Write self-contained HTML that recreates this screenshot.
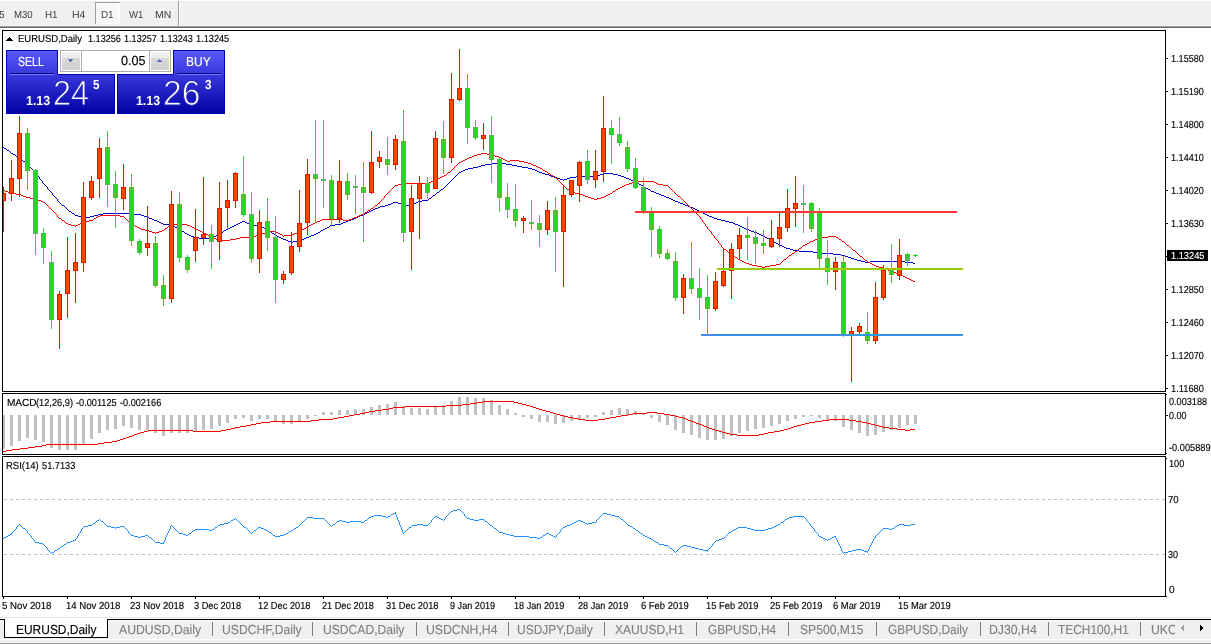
<!DOCTYPE html>
<html lang="en"><head><meta charset="utf-8"><title>EURUSD,Daily</title>
<style>
html,body{margin:0;padding:0;background:#fff;}
body{width:1211px;height:644px;overflow:hidden;position:relative;font-family:"Liberation Sans",sans-serif;}
#w{position:absolute;left:0;top:0;width:1211px;height:644px;overflow:hidden;}
svg{position:absolute;left:0;top:0;}
.t{position:absolute;white-space:pre;transform-origin:0 0;display:block;text-rendering:geometricPrecision;}
.c{position:absolute;overflow:hidden;}
</style></head>
<body><div id="w">
<svg width="1211" height="644" viewBox="0 0 1211 644" shape-rendering="crispEdges">
<rect x="0" y="0" width="1211" height="644" fill="#fff"/>
<rect x="0" y="1" width="1211" height="25" fill="#f0f0f0"/>
<rect x="0" y="26" width="1211" height="1" fill="#a0a0a0"/>
<rect x="0" y="27" width="1211" height="1" fill="#696969"/>
<defs><pattern id="d" width="2" height="2" patternUnits="userSpaceOnUse"><rect width="2" height="2" fill="#f0f0f0"/><rect width="1" height="1" fill="#fff"/><rect x="1" y="1" width="1" height="1" fill="#fff"/></pattern></defs>
<rect x="96" y="3" width="24" height="21" fill="url(#d)"/>
<rect x="95" y="2" width="25" height="1" fill="#a0a0a0"/><rect x="95" y="2" width="1" height="22" fill="#a0a0a0"/>
<rect x="96" y="23" width="24" height="1" fill="#fff"/><rect x="119" y="3" width="1" height="21" fill="#fff"/>
<rect x="178" y="1" width="1" height="25" fill="#a0a0a0"/><rect x="179" y="1" width="1" height="25" fill="#fff"/>
<path d="M3 147h1v1h-1zM4 148h2v1h-2zM6 149h1v1h-1zM7 150h2v1h-2zM9 151h1v1h-1zM10 152h1v1h-1zM11 153h2v1h-2zM13 154h2v1h-2zM15 155h1v1h-1zM16 156h2v1h-2zM18 157h2v1h-2zM20 158h1v1h-1zM21 159h1v1h-1zM22 160h1v1h-1zM23 161h2v1h-2zM25 162h1v1h-1zM26 163h1v1h-1zM27 164h1v1h-1zM28 165h1v1h-1zM29 166h1v1h-1zM30 167h1v1h-1zM31 168h1v1h-1zM32 169h1v1h-1zM33 170h1v1h-1zM34 171h1v1h-1zM35 172h1v2h-1zM36 174h1v1h-1zM37 175h1v1h-1zM38 176h1v1h-1zM39 177h1v2h-1zM40 179h1v1h-1zM41 180h1v1h-1zM42 181h1v2h-1zM43 183h1v1h-1zM44 184h1v1h-1zM45 185h1v1h-1zM46 186h1v1h-1zM47 187h1v2h-1zM48 189h1v1h-1zM49 190h1v1h-1zM50 191h1v1h-1zM51 192h1v1h-1zM52 193h1v2h-1zM53 195h1v1h-1zM54 196h1v1h-1zM55 197h1v1h-1zM56 198h1v1h-1zM57 199h1v2h-1zM58 201h1v1h-1zM59 202h1v1h-1zM60 203h1v1h-1zM61 204h1v1h-1zM62 205h2v1h-2zM64 206h1v1h-1zM65 207h1v1h-1zM66 208h1v1h-1zM67 209h1v1h-1zM68 210h1v1h-1zM69 211h2v1h-2zM71 212h1v1h-1zM72 213h2v1h-2zM74 214h1v1h-1zM75 215h3v1h-3zM78 216h3v1h-3zM81 217h9v1h-9zM90 216h4v1h-4zM94 215h4v1h-4zM98 214h5v1h-5zM103 213h12v1h-12zM115 214h1v1h-1zM116 213h15v1h-15zM131 214h10v1h-10zM141 215h3v1h-3zM144 216h3v1h-3zM147 217h2v1h-2zM149 218h3v1h-3zM152 219h2v1h-2zM154 220h3v1h-3zM157 221h2v1h-2zM159 222h2v1h-2zM161 223h2v1h-2zM163 224h6v1h-6zM169 225h4v1h-4zM173 226h2v1h-2zM175 227h2v1h-2zM177 228h2v1h-2zM179 229h2v1h-2zM181 230h1v1h-1zM182 231h2v1h-2zM184 232h1v1h-1zM185 233h2v1h-2zM187 234h2v1h-2zM189 235h2v1h-2zM191 236h3v1h-3zM194 237h5v1h-5zM199 238h13v1h-13zM212 237h2v1h-2zM214 236h2v1h-2zM216 235h2v1h-2zM218 234h2v1h-2zM220 233h1v1h-1zM221 232h2v1h-2zM223 231h1v1h-1zM224 230h2v1h-2zM226 229h2v1h-2zM228 228h2v1h-2zM230 227h2v1h-2zM232 226h2v1h-2zM234 225h2v1h-2zM236 224h2v1h-2zM238 223h2v1h-2zM240 222h2v1h-2zM242 221h3v1h-3zM245 222h2v1h-2zM247 223h3v1h-3zM250 224h3v1h-3zM253 225h7v1h-7zM260 226h2v1h-2zM262 227h2v1h-2zM264 228h2v1h-2zM266 229h1v1h-1zM267 230h2v1h-2zM269 231h2v1h-2zM271 232h1v1h-1zM272 233h2v1h-2zM274 234h1v1h-1zM275 235h2v1h-2zM277 236h2v1h-2zM279 237h2v1h-2zM281 238h2v1h-2zM283 239h3v1h-3zM286 240h2v1h-2zM288 241h3v1h-3zM291 242h2v1h-2zM293 241h5v1h-5zM298 240h3v1h-3zM301 239h3v1h-3zM304 238h2v1h-2zM306 237h3v1h-3zM309 236h2v1h-2zM311 235h3v1h-3zM314 234h2v1h-2zM316 233h2v1h-2zM318 232h2v1h-2zM320 231h1v1h-1zM321 230h2v1h-2zM323 229h2v1h-2zM325 228h2v1h-2zM327 227h2v1h-2zM329 226h1v1h-1zM330 225h5v1h-5zM335 224h6v1h-6zM341 223h2v1h-2zM343 222h3v1h-3zM346 221h2v1h-2zM348 220h3v1h-3zM351 219h3v1h-3zM354 218h2v1h-2zM356 217h2v1h-2zM358 216h2v1h-2zM360 215h3v1h-3zM363 214h2v1h-2zM365 213h2v1h-2zM367 212h2v1h-2zM369 211h2v1h-2zM371 210h2v1h-2zM373 209h2v1h-2zM375 208h3v1h-3zM378 207h2v1h-2zM380 206h5v1h-5zM385 205h3v1h-3zM388 204h3v1h-3zM391 203h2v1h-2zM393 202h5v1h-5zM398 203h3v1h-3zM401 204h2v1h-2zM403 205h9v1h-9zM412 204h2v1h-2zM414 203h2v1h-2zM416 202h2v1h-2zM418 201h4v1h-4zM422 200h6v1h-6zM428 199h1v1h-1zM429 198h2v1h-2zM431 197h1v1h-1zM432 196h1v1h-1zM433 195h2v1h-2zM435 194h1v1h-1zM436 193h1v1h-1zM437 192h2v1h-2zM439 191h1v1h-1zM440 190h1v1h-1zM441 189h2v1h-2zM443 188h1v1h-1zM444 187h1v1h-1zM445 186h1v1h-1zM446 185h1v1h-1zM447 184h1v1h-1zM448 183h1v1h-1zM449 182h1v1h-1zM450 181h1v1h-1zM451 180h1v1h-1zM452 179h1v1h-1zM453 178h1v1h-1zM454 177h1v1h-1zM455 176h1v1h-1zM456 175h1v1h-1zM457 174h1v1h-1zM458 173h1v1h-1zM459 172h2v1h-2zM461 171h2v1h-2zM463 170h2v1h-2zM465 169h3v1h-3zM468 168h5v1h-5zM473 167h5v1h-5zM478 166h3v1h-3zM481 165h4v1h-4zM485 164h7v1h-7zM492 163h14v1h-14zM506 164h6v1h-6zM512 165h5v1h-5zM517 166h5v1h-5zM522 167h6v1h-6zM528 168h4v1h-4zM532 169h3v1h-3zM535 170h2v1h-2zM537 171h2v1h-2zM539 172h3v1h-3zM542 173h3v1h-3zM545 174h4v1h-4zM549 175h2v1h-2zM551 176h3v1h-3zM554 177h3v1h-3zM557 178h3v1h-3zM560 179h3v1h-3zM563 180h1v1h-1zM564 179h3v1h-3zM567 178h3v1h-3zM570 177h6v1h-6zM576 176h20v1h-20zM596 175h4v1h-4zM600 174h4v1h-4zM604 173h9v1h-9zM613 174h5v1h-5zM618 175h3v1h-3zM621 176h3v1h-3zM624 177h2v1h-2zM626 178h3v1h-3zM629 179h2v1h-2zM631 180h2v1h-2zM633 181h2v1h-2zM635 182h2v1h-2zM637 183h2v1h-2zM639 184h2v1h-2zM641 185h2v1h-2zM643 186h1v1h-1zM644 187h2v1h-2zM646 188h2v1h-2zM648 189h2v1h-2zM650 190h1v1h-1zM651 191h3v1h-3zM654 192h2v1h-2zM656 193h3v1h-3zM659 194h2v1h-2zM661 195h3v1h-3zM664 196h2v1h-2zM666 197h3v1h-3zM669 198h2v1h-2zM671 199h2v1h-2zM673 200h2v1h-2zM675 201h3v1h-3zM678 202h2v1h-2zM680 203h3v1h-3zM683 204h2v1h-2zM685 205h3v1h-3zM688 206h2v1h-2zM690 207h3v1h-3zM693 208h2v1h-2zM695 209h2v1h-2zM697 210h2v1h-2zM699 211h2v1h-2zM701 212h2v1h-2zM703 213h2v1h-2zM705 214h2v1h-2zM707 215h2v1h-2zM709 216h3v1h-3zM712 217h2v1h-2zM714 218h3v1h-3zM717 219h4v1h-4zM721 220h4v1h-4zM725 221h4v1h-4zM729 222h4v1h-4zM733 223h2v1h-2zM735 224h3v1h-3zM738 225h2v1h-2zM740 226h2v1h-2zM742 227h2v1h-2zM744 228h2v1h-2zM746 229h3v1h-3zM749 230h2v1h-2zM751 231h3v1h-3zM754 232h3v1h-3zM757 233h2v1h-2zM759 234h2v1h-2zM761 235h2v1h-2zM763 236h2v1h-2zM765 237h2v1h-2zM767 238h2v1h-2zM769 239h2v1h-2zM771 240h2v1h-2zM773 241h1v1h-1zM774 242h2v1h-2zM776 243h2v1h-2zM778 244h1v1h-1zM779 245h3v1h-3zM782 246h2v1h-2zM784 247h2v1h-2zM786 248h4v1h-4zM790 249h3v1h-3zM793 250h6v1h-6zM799 251h14v1h-14zM813 252h5v1h-5zM818 253h15v1h-15zM833 254h8v1h-8zM841 255h4v1h-4zM845 256h3v1h-3zM848 257h3v1h-3zM851 258h3v1h-3zM854 259h3v1h-3zM857 260h4v1h-4zM861 261h4v1h-4zM865 262h5v1h-5zM870 261h35v1h-35zM905 262h8v1h-8zM913 263h2v1h-2z" fill="#0000cd"/>
<path d="M3 190h2v1h-2zM5 191h3v1h-3zM8 192h3v1h-3zM11 193h5v1h-5zM16 194h5v1h-5zM21 195h2v1h-2zM23 196h3v1h-3zM26 197h4v1h-4zM30 198h5v1h-5zM35 199h3v1h-3zM38 200h3v1h-3zM41 201h2v1h-2zM43 202h2v1h-2zM45 203h1v1h-1zM46 204h1v1h-1zM47 205h1v1h-1zM48 206h1v1h-1zM49 207h1v1h-1zM50 208h1v1h-1zM51 209h1v1h-1zM52 210h1v1h-1zM53 211h1v1h-1zM54 212h1v1h-1zM55 213h1v1h-1zM56 214h1v1h-1zM57 215h1v2h-1zM58 217h1v1h-1zM59 218h2v1h-2zM61 219h1v1h-1zM62 220h2v1h-2zM64 221h1v1h-1zM65 222h1v1h-1zM66 223h2v1h-2zM68 224h3v1h-3zM71 225h4v1h-4zM75 226h1v1h-1zM76 225h2v1h-2zM78 224h2v1h-2zM80 223h1v1h-1zM81 222h2v1h-2zM83 221h6v1h-6zM89 220h4v1h-4zM93 219h1v1h-1zM94 218h2v1h-2zM96 217h2v1h-2zM98 216h2v1h-2zM100 215h20v1h-20zM120 216h4v1h-4zM124 217h1v1h-1zM125 218h1v1h-1zM126 219h1v1h-1zM127 220h1v1h-1zM128 221h1v1h-1zM129 222h1v1h-1zM130 223h1v1h-1zM131 224h2v1h-2zM133 225h2v1h-2zM135 226h2v1h-2zM137 227h2v1h-2zM139 228h2v1h-2zM141 229h4v1h-4zM145 230h4v1h-4zM149 231h3v1h-3zM152 232h3v1h-3zM155 233h1v1h-1zM156 232h3v1h-3zM159 231h3v1h-3zM162 230h2v1h-2zM164 229h1v1h-1zM165 228h2v1h-2zM167 227h1v1h-1zM168 226h1v1h-1zM169 225h2v1h-2zM171 224h16v1h-16zM187 225h3v1h-3zM190 226h2v1h-2zM192 227h2v1h-2zM194 228h2v1h-2zM196 229h2v1h-2zM198 230h2v1h-2zM200 231h2v1h-2zM202 232h1v1h-1zM203 233h3v1h-3zM206 234h2v1h-2zM208 235h2v1h-2zM210 236h2v1h-2zM212 237h2v1h-2zM214 238h2v1h-2zM216 239h3v1h-3zM219 240h11v1h-11zM230 239h6v1h-6zM236 238h4v1h-4zM240 237h12v1h-12zM252 236h4v1h-4zM256 235h4v1h-4zM260 234h2v1h-2zM262 233h3v1h-3zM265 232h2v1h-2zM267 231h9v1h-9zM276 232h2v1h-2zM278 233h2v1h-2zM280 234h2v1h-2zM282 235h1v1h-1zM283 236h1v1h-1zM284 235h8v1h-8zM292 234h2v1h-2zM294 233h3v1h-3zM297 232h2v1h-2zM299 231h2v1h-2zM301 230h1v1h-1zM302 229h2v1h-2zM304 228h2v1h-2zM306 227h1v1h-1zM307 226h2v1h-2zM309 225h2v1h-2zM311 224h2v1h-2zM313 223h2v1h-2zM315 222h2v1h-2zM317 221h3v1h-3zM320 220h2v1h-2zM322 219h21v1h-21zM343 220h6v1h-6zM349 219h3v1h-3zM352 218h2v1h-2zM354 217h3v1h-3zM357 216h2v1h-2zM359 215h2v1h-2zM361 214h2v1h-2zM363 213h2v1h-2zM365 212h2v1h-2zM367 211h1v1h-1zM368 210h2v1h-2zM370 209h1v1h-1zM371 208h2v1h-2zM373 207h1v1h-1zM374 206h1v1h-1zM375 205h2v1h-2zM377 204h1v1h-1zM378 203h1v1h-1zM379 202h1v2h-1zM380 201h1v1h-1zM381 200h1v1h-1zM382 199h1v1h-1zM383 198h1v1h-1zM384 196h1v2h-1zM385 195h1v1h-1zM386 194h1v1h-1zM387 193h1v1h-1zM388 192h1v1h-1zM389 191h1v1h-1zM390 190h1v1h-1zM391 189h1v1h-1zM392 188h1v1h-1zM393 187h1v1h-1zM394 186h1v1h-1zM395 185h3v1h-3zM398 184h5v1h-5zM403 183h26v1h-26zM429 182h2v1h-2zM431 181h2v1h-2zM433 180h2v1h-2zM435 179h2v1h-2zM437 178h3v1h-3zM440 177h2v1h-2zM442 176h2v1h-2zM444 175h2v1h-2zM446 174h1v1h-1zM447 173h1v1h-1zM448 172h2v1h-2zM450 171h1v1h-1zM451 170h1v1h-1zM452 169h1v1h-1zM453 168h1v1h-1zM454 167h1v1h-1zM455 166h1v1h-1zM456 165h1v1h-1zM457 164h1v1h-1zM458 163h1v1h-1zM459 162h2v1h-2zM461 161h2v1h-2zM463 160h2v1h-2zM465 159h2v1h-2zM467 158h2v1h-2zM469 157h3v1h-3zM472 156h2v1h-2zM474 155h3v1h-3zM477 154h4v1h-4zM481 153h6v1h-6zM487 154h5v1h-5zM492 155h3v1h-3zM495 156h4v1h-4zM499 157h2v1h-2zM501 158h2v1h-2zM503 159h2v1h-2zM505 160h2v1h-2zM507 161h3v1h-3zM510 160h9v1h-9zM519 161h5v1h-5zM524 162h4v1h-4zM528 163h3v1h-3zM531 164h2v1h-2zM533 165h3v1h-3zM536 166h2v1h-2zM538 167h2v1h-2zM540 168h2v1h-2zM542 169h1v1h-1zM543 170h2v1h-2zM545 171h2v1h-2zM547 172h1v1h-1zM548 173h2v1h-2zM550 174h1v1h-1zM551 175h2v1h-2zM553 176h2v1h-2zM555 177h1v1h-1zM556 178h1v1h-1zM557 179h1v1h-1zM558 180h1v1h-1zM559 181h1v1h-1zM560 182h1v1h-1zM561 183h1v1h-1zM562 184h1v1h-1zM563 185h1v1h-1zM564 186h1v1h-1zM565 187h1v1h-1zM566 188h1v1h-1zM567 189h2v1h-2zM569 190h1v1h-1zM570 191h1v1h-1zM571 192h4v1h-4zM575 193h5v1h-5zM580 194h3v1h-3zM583 195h2v1h-2zM585 196h3v1h-3zM588 197h3v1h-3zM591 198h3v1h-3zM594 199h3v1h-3zM597 198h4v1h-4zM601 197h3v1h-3zM604 196h2v1h-2zM606 195h2v1h-2zM608 194h2v1h-2zM610 193h2v1h-2zM612 192h1v1h-1zM613 191h2v1h-2zM615 190h1v1h-1zM616 189h2v1h-2zM618 188h2v1h-2zM620 187h2v1h-2zM622 186h2v1h-2zM624 185h2v1h-2zM626 184h3v1h-3zM629 183h3v1h-3zM632 182h3v1h-3zM635 181h19v1h-19zM654 182h2v1h-2zM656 183h2v1h-2zM658 184h5v1h-5zM663 185h5v1h-5zM668 186h1v1h-1zM669 187h1v1h-1zM670 188h1v1h-1zM671 189h1v1h-1zM672 190h1v1h-1zM673 191h1v1h-1zM674 192h1v1h-1zM675 193h1v1h-1zM676 194h1v1h-1zM677 195h1v1h-1zM678 196h2v1h-2zM680 197h1v1h-1zM681 198h1v1h-1zM682 199h1v1h-1zM683 200h1v1h-1zM684 201h1v1h-1zM685 202h1v1h-1zM686 203h1v1h-1zM687 204h1v1h-1zM688 205h1v1h-1zM689 206h1v1h-1zM690 207h1v1h-1zM691 208h1v1h-1zM692 209h1v1h-1zM693 210h1v1h-1zM694 211h1v1h-1zM695 212h1v1h-1zM696 213h1v1h-1zM697 214h1v1h-1zM698 215h1v1h-1zM699 216h1v1h-1zM700 217h1v2h-1zM701 219h1v1h-1zM702 220h1v2h-1zM703 222h1v1h-1zM704 223h1v1h-1zM705 224h1v2h-1zM706 226h1v1h-1zM707 227h1v2h-1zM708 229h1v1h-1zM709 230h1v1h-1zM710 231h1v1h-1zM711 232h1v2h-1zM712 234h1v1h-1zM713 235h1v1h-1zM714 236h1v2h-1zM715 238h1v1h-1zM716 239h1v1h-1zM717 240h1v1h-1zM718 241h1v2h-1zM719 243h1v1h-1zM720 244h1v1h-1zM721 245h1v2h-1zM722 247h1v1h-1zM723 248h1v1h-1zM724 249h2v1h-2zM726 250h1v1h-1zM727 251h1v1h-1zM728 252h2v1h-2zM730 253h1v1h-1zM731 254h1v1h-1zM732 255h2v1h-2zM734 256h1v1h-1zM735 257h2v1h-2zM737 258h1v1h-1zM738 259h2v1h-2zM740 260h2v1h-2zM742 261h2v1h-2zM744 262h2v1h-2zM746 263h3v1h-3zM749 264h3v1h-3zM752 265h5v1h-5zM757 266h5v1h-5zM762 267h3v1h-3zM765 266h5v1h-5zM770 265h6v1h-6zM776 264h4v1h-4zM780 263h1v1h-1zM781 262h1v1h-1zM782 261h1v1h-1zM783 260h1v1h-1zM784 259h2v1h-2zM786 258h1v1h-1zM787 257h1v1h-1zM788 256h1v1h-1zM789 255h2v1h-2zM791 254h1v1h-1zM792 253h2v1h-2zM794 252h1v1h-1zM795 251h2v1h-2zM797 250h1v1h-1zM798 249h1v1h-1zM799 248h2v1h-2zM801 247h1v1h-1zM802 246h1v1h-1zM803 245h2v1h-2zM805 244h2v1h-2zM807 243h2v1h-2zM809 242h1v1h-1zM810 241h3v1h-3zM813 240h2v1h-2zM815 239h3v1h-3zM818 238h4v1h-4zM822 237h6v1h-6zM828 236h8v1h-8zM836 237h2v1h-2zM838 238h1v1h-1zM839 239h2v1h-2zM841 240h1v1h-1zM842 241h2v1h-2zM844 242h1v1h-1zM845 243h1v1h-1zM846 244h1v1h-1zM847 245h2v1h-2zM849 246h1v1h-1zM850 247h1v1h-1zM851 248h1v1h-1zM852 249h1v1h-1zM853 250h2v1h-2zM855 251h1v1h-1zM856 252h1v1h-1zM857 253h1v1h-1zM858 254h1v1h-1zM859 255h1v1h-1zM860 256h2v1h-2zM862 257h1v1h-1zM863 258h1v1h-1zM864 259h1v1h-1zM865 260h2v1h-2zM867 261h1v1h-1zM868 262h2v1h-2zM870 263h2v1h-2zM872 264h2v1h-2zM874 265h2v1h-2zM876 266h3v1h-3zM879 267h4v1h-4zM883 268h3v1h-3zM886 269h2v1h-2zM888 270h3v1h-3zM891 271h3v1h-3zM894 272h2v1h-2zM896 273h3v1h-3zM899 274h2v1h-2zM901 275h2v1h-2zM903 276h2v1h-2zM905 277h2v1h-2zM907 278h2v1h-2zM909 279h2v1h-2zM911 280h2v1h-2zM913 281h2v1h-2z" fill="#ff0000"/>
<rect x="3" y="187" width="1" height="45" fill="#ff0000"/>
<rect x="1" y="193" width="5" height="8" fill="#ff0000"/>
<rect x="2" y="194" width="3" height="6" fill="#ff4500"/>
<rect x="11" y="160" width="1" height="41" fill="#ff0000"/>
<rect x="9" y="178" width="5" height="16" fill="#ff0000"/>
<rect x="10" y="179" width="3" height="14" fill="#ff4500"/>
<rect x="19" y="116" width="1" height="81" fill="#ff0000"/>
<rect x="17" y="133" width="5" height="46" fill="#ff0000"/>
<rect x="18" y="134" width="3" height="44" fill="#ff4500"/>
<rect x="27" y="128" width="1" height="62" fill="#32cd32"/>
<rect x="25" y="133" width="5" height="38" fill="#32cd32"/>
<rect x="35" y="169" width="1" height="86" fill="#32cd32"/>
<rect x="33" y="170" width="5" height="64" fill="#32cd32"/>
<rect x="43" y="228" width="1" height="36" fill="#32cd32"/>
<rect x="41" y="233" width="5" height="15" fill="#32cd32"/>
<rect x="51" y="251" width="1" height="78" fill="#32cd32"/>
<rect x="49" y="262" width="5" height="58" fill="#32cd32"/>
<rect x="59" y="291" width="1" height="58" fill="#ff0000"/>
<rect x="57" y="294" width="5" height="26" fill="#ff0000"/>
<rect x="58" y="295" width="3" height="24" fill="#ff4500"/>
<rect x="67" y="237" width="1" height="81" fill="#ff0000"/>
<rect x="65" y="270" width="5" height="24" fill="#ff0000"/>
<rect x="66" y="271" width="3" height="22" fill="#ff4500"/>
<rect x="75" y="233" width="1" height="70" fill="#ff0000"/>
<rect x="73" y="262" width="5" height="9" fill="#ff0000"/>
<rect x="74" y="263" width="3" height="7" fill="#ff4500"/>
<rect x="83" y="182" width="1" height="90" fill="#ff0000"/>
<rect x="81" y="197" width="5" height="66" fill="#ff0000"/>
<rect x="82" y="198" width="3" height="64" fill="#ff4500"/>
<rect x="91" y="176" width="1" height="24" fill="#ff0000"/>
<rect x="89" y="181" width="5" height="17" fill="#ff0000"/>
<rect x="90" y="182" width="3" height="15" fill="#ff4500"/>
<rect x="99" y="138" width="1" height="60" fill="#ff0000"/>
<rect x="97" y="148" width="5" height="31" fill="#ff0000"/>
<rect x="98" y="149" width="3" height="29" fill="#ff4500"/>
<rect x="107" y="131" width="1" height="76" fill="#32cd32"/>
<rect x="105" y="147" width="5" height="38" fill="#32cd32"/>
<rect x="115" y="171" width="1" height="57" fill="#32cd32"/>
<rect x="113" y="184" width="5" height="14" fill="#32cd32"/>
<rect x="123" y="164" width="1" height="46" fill="#ff0000"/>
<rect x="121" y="187" width="5" height="12" fill="#ff0000"/>
<rect x="122" y="188" width="3" height="10" fill="#ff4500"/>
<rect x="131" y="174" width="1" height="72" fill="#32cd32"/>
<rect x="129" y="187" width="5" height="54" fill="#32cd32"/>
<rect x="139" y="239" width="1" height="16" fill="#32cd32"/>
<rect x="137" y="241" width="5" height="12" fill="#32cd32"/>
<rect x="147" y="206" width="1" height="50" fill="#ff0000"/>
<rect x="145" y="243" width="5" height="5" fill="#ff0000"/>
<rect x="146" y="244" width="3" height="3" fill="#ff4500"/>
<rect x="155" y="236" width="1" height="52" fill="#32cd32"/>
<rect x="153" y="243" width="5" height="43" fill="#32cd32"/>
<rect x="163" y="275" width="1" height="31" fill="#32cd32"/>
<rect x="161" y="285" width="5" height="14" fill="#32cd32"/>
<rect x="171" y="191" width="1" height="112" fill="#ff0000"/>
<rect x="169" y="204" width="5" height="95" fill="#ff0000"/>
<rect x="170" y="205" width="3" height="93" fill="#ff4500"/>
<rect x="179" y="192" width="1" height="70" fill="#32cd32"/>
<rect x="177" y="204" width="5" height="54" fill="#32cd32"/>
<rect x="187" y="255" width="1" height="18" fill="#32cd32"/>
<rect x="185" y="257" width="5" height="13" fill="#32cd32"/>
<rect x="195" y="209" width="1" height="53" fill="#ff0000"/>
<rect x="193" y="237" width="5" height="14" fill="#ff0000"/>
<rect x="194" y="238" width="3" height="12" fill="#ff4500"/>
<rect x="203" y="177" width="1" height="68" fill="#ff0000"/>
<rect x="201" y="234" width="5" height="4" fill="#ff0000"/>
<rect x="202" y="235" width="3" height="2" fill="#ff4500"/>
<rect x="211" y="225" width="1" height="44" fill="#32cd32"/>
<rect x="209" y="234" width="5" height="8" fill="#32cd32"/>
<rect x="219" y="182" width="1" height="78" fill="#ff0000"/>
<rect x="217" y="208" width="5" height="34" fill="#ff0000"/>
<rect x="218" y="209" width="3" height="32" fill="#ff4500"/>
<rect x="227" y="180" width="1" height="48" fill="#ff0000"/>
<rect x="225" y="200" width="5" height="8" fill="#ff0000"/>
<rect x="226" y="201" width="3" height="6" fill="#ff4500"/>
<rect x="235" y="172" width="1" height="36" fill="#ff0000"/>
<rect x="233" y="173" width="5" height="28" fill="#ff0000"/>
<rect x="234" y="174" width="3" height="26" fill="#ff4500"/>
<rect x="243" y="156" width="1" height="61" fill="#32cd32"/>
<rect x="241" y="194" width="5" height="21" fill="#32cd32"/>
<rect x="251" y="192" width="1" height="71" fill="#32cd32"/>
<rect x="249" y="214" width="5" height="45" fill="#32cd32"/>
<rect x="259" y="210" width="1" height="63" fill="#ff0000"/>
<rect x="257" y="222" width="5" height="37" fill="#ff0000"/>
<rect x="258" y="223" width="3" height="35" fill="#ff4500"/>
<rect x="267" y="198" width="1" height="53" fill="#32cd32"/>
<rect x="265" y="221" width="5" height="17" fill="#32cd32"/>
<rect x="275" y="216" width="1" height="87" fill="#32cd32"/>
<rect x="273" y="237" width="5" height="43" fill="#32cd32"/>
<rect x="283" y="271" width="1" height="13" fill="#ff0000"/>
<rect x="281" y="274" width="5" height="6" fill="#ff0000"/>
<rect x="282" y="275" width="3" height="4" fill="#ff4500"/>
<rect x="291" y="232" width="1" height="43" fill="#ff0000"/>
<rect x="289" y="246" width="5" height="27" fill="#ff0000"/>
<rect x="290" y="247" width="3" height="25" fill="#ff4500"/>
<rect x="299" y="190" width="1" height="62" fill="#ff0000"/>
<rect x="297" y="223" width="5" height="24" fill="#ff0000"/>
<rect x="298" y="224" width="3" height="22" fill="#ff4500"/>
<rect x="307" y="159" width="1" height="76" fill="#ff0000"/>
<rect x="305" y="174" width="5" height="49" fill="#ff0000"/>
<rect x="306" y="175" width="3" height="47" fill="#ff4500"/>
<rect x="315" y="120" width="1" height="103" fill="#32cd32"/>
<rect x="313" y="174" width="5" height="5" fill="#32cd32"/>
<rect x="323" y="120" width="1" height="88" fill="#32cd32"/>
<rect x="321" y="179" width="5" height="2" fill="#32cd32"/>
<rect x="331" y="175" width="1" height="50" fill="#32cd32"/>
<rect x="329" y="180" width="5" height="39" fill="#32cd32"/>
<rect x="339" y="160" width="1" height="63" fill="#ff0000"/>
<rect x="337" y="181" width="5" height="38" fill="#ff0000"/>
<rect x="338" y="182" width="3" height="36" fill="#ff4500"/>
<rect x="347" y="173" width="1" height="27" fill="#32cd32"/>
<rect x="345" y="181" width="5" height="14" fill="#32cd32"/>
<rect x="355" y="175" width="1" height="39" fill="#32cd32"/>
<rect x="353" y="186" width="5" height="2" fill="#32cd32"/>
<rect x="363" y="162" width="1" height="80" fill="#32cd32"/>
<rect x="361" y="187" width="5" height="6" fill="#32cd32"/>
<rect x="371" y="131" width="1" height="63" fill="#ff0000"/>
<rect x="369" y="162" width="5" height="31" fill="#ff0000"/>
<rect x="370" y="163" width="3" height="29" fill="#ff4500"/>
<rect x="379" y="151" width="1" height="17" fill="#ff0000"/>
<rect x="377" y="157" width="5" height="5" fill="#ff0000"/>
<rect x="378" y="158" width="3" height="3" fill="#ff4500"/>
<rect x="387" y="137" width="1" height="38" fill="#32cd32"/>
<rect x="385" y="159" width="5" height="6" fill="#32cd32"/>
<rect x="395" y="135" width="1" height="35" fill="#ff0000"/>
<rect x="393" y="139" width="5" height="26" fill="#ff0000"/>
<rect x="394" y="140" width="3" height="24" fill="#ff4500"/>
<rect x="403" y="110" width="1" height="132" fill="#32cd32"/>
<rect x="401" y="141" width="5" height="92" fill="#32cd32"/>
<rect x="411" y="185" width="1" height="85" fill="#ff0000"/>
<rect x="409" y="198" width="5" height="34" fill="#ff0000"/>
<rect x="410" y="199" width="3" height="32" fill="#ff4500"/>
<rect x="419" y="176" width="1" height="63" fill="#ff0000"/>
<rect x="417" y="183" width="5" height="16" fill="#ff0000"/>
<rect x="418" y="184" width="3" height="14" fill="#ff4500"/>
<rect x="427" y="177" width="1" height="22" fill="#32cd32"/>
<rect x="425" y="183" width="5" height="10" fill="#32cd32"/>
<rect x="435" y="131" width="1" height="58" fill="#ff0000"/>
<rect x="433" y="138" width="5" height="51" fill="#ff0000"/>
<rect x="434" y="139" width="3" height="49" fill="#ff4500"/>
<rect x="443" y="121" width="1" height="53" fill="#32cd32"/>
<rect x="441" y="139" width="5" height="19" fill="#32cd32"/>
<rect x="451" y="73" width="1" height="90" fill="#ff0000"/>
<rect x="449" y="99" width="5" height="59" fill="#ff0000"/>
<rect x="450" y="100" width="3" height="57" fill="#ff4500"/>
<rect x="459" y="49" width="1" height="52" fill="#ff0000"/>
<rect x="457" y="88" width="5" height="12" fill="#ff0000"/>
<rect x="458" y="89" width="3" height="10" fill="#ff4500"/>
<rect x="467" y="74" width="1" height="70" fill="#32cd32"/>
<rect x="465" y="88" width="5" height="40" fill="#32cd32"/>
<rect x="475" y="120" width="1" height="20" fill="#32cd32"/>
<rect x="473" y="127" width="5" height="11" fill="#32cd32"/>
<rect x="483" y="123" width="1" height="27" fill="#ff0000"/>
<rect x="481" y="135" width="5" height="4" fill="#ff0000"/>
<rect x="482" y="136" width="3" height="2" fill="#ff4500"/>
<rect x="491" y="116" width="1" height="67" fill="#32cd32"/>
<rect x="489" y="135" width="5" height="25" fill="#32cd32"/>
<rect x="499" y="158" width="1" height="54" fill="#32cd32"/>
<rect x="497" y="159" width="5" height="39" fill="#32cd32"/>
<rect x="507" y="183" width="1" height="35" fill="#32cd32"/>
<rect x="505" y="197" width="5" height="13" fill="#32cd32"/>
<rect x="515" y="184" width="1" height="43" fill="#32cd32"/>
<rect x="513" y="209" width="5" height="12" fill="#32cd32"/>
<rect x="523" y="216" width="1" height="17" fill="#ff0000"/>
<rect x="521" y="218" width="5" height="3" fill="#ff0000"/>
<rect x="522" y="219" width="3" height="1" fill="#ff4500"/>
<rect x="531" y="200" width="1" height="30" fill="#32cd32"/>
<rect x="529" y="222" width="5" height="2" fill="#32cd32"/>
<rect x="539" y="215" width="1" height="32" fill="#32cd32"/>
<rect x="537" y="223" width="5" height="7" fill="#32cd32"/>
<rect x="547" y="201" width="1" height="34" fill="#ff0000"/>
<rect x="545" y="210" width="5" height="20" fill="#ff0000"/>
<rect x="546" y="211" width="3" height="18" fill="#ff4500"/>
<rect x="555" y="197" width="1" height="75" fill="#32cd32"/>
<rect x="553" y="210" width="5" height="22" fill="#32cd32"/>
<rect x="563" y="186" width="1" height="101" fill="#ff0000"/>
<rect x="561" y="195" width="5" height="37" fill="#ff0000"/>
<rect x="562" y="196" width="3" height="35" fill="#ff4500"/>
<rect x="571" y="180" width="1" height="17" fill="#ff0000"/>
<rect x="569" y="180" width="5" height="15" fill="#ff0000"/>
<rect x="570" y="181" width="3" height="13" fill="#ff4500"/>
<rect x="579" y="161" width="1" height="41" fill="#ff0000"/>
<rect x="577" y="162" width="5" height="24" fill="#ff0000"/>
<rect x="578" y="163" width="3" height="22" fill="#ff4500"/>
<rect x="587" y="150" width="1" height="34" fill="#32cd32"/>
<rect x="585" y="161" width="5" height="19" fill="#32cd32"/>
<rect x="595" y="150" width="1" height="38" fill="#ff0000"/>
<rect x="593" y="171" width="5" height="9" fill="#ff0000"/>
<rect x="594" y="172" width="3" height="7" fill="#ff4500"/>
<rect x="603" y="96" width="1" height="86" fill="#ff0000"/>
<rect x="601" y="128" width="5" height="44" fill="#ff0000"/>
<rect x="602" y="129" width="3" height="42" fill="#ff4500"/>
<rect x="611" y="120" width="1" height="44" fill="#32cd32"/>
<rect x="609" y="128" width="5" height="7" fill="#32cd32"/>
<rect x="619" y="117" width="1" height="29" fill="#32cd32"/>
<rect x="617" y="134" width="5" height="9" fill="#32cd32"/>
<rect x="627" y="141" width="1" height="31" fill="#32cd32"/>
<rect x="625" y="147" width="5" height="22" fill="#32cd32"/>
<rect x="635" y="158" width="1" height="31" fill="#32cd32"/>
<rect x="633" y="168" width="5" height="20" fill="#32cd32"/>
<rect x="643" y="178" width="1" height="36" fill="#32cd32"/>
<rect x="641" y="187" width="5" height="24" fill="#32cd32"/>
<rect x="651" y="207" width="1" height="50" fill="#32cd32"/>
<rect x="649" y="212" width="5" height="18" fill="#32cd32"/>
<rect x="659" y="226" width="1" height="32" fill="#32cd32"/>
<rect x="657" y="229" width="5" height="25" fill="#32cd32"/>
<rect x="667" y="249" width="1" height="11" fill="#32cd32"/>
<rect x="665" y="253" width="5" height="6" fill="#32cd32"/>
<rect x="675" y="252" width="1" height="49" fill="#32cd32"/>
<rect x="673" y="261" width="5" height="37" fill="#32cd32"/>
<rect x="683" y="274" width="1" height="40" fill="#ff0000"/>
<rect x="681" y="278" width="5" height="20" fill="#ff0000"/>
<rect x="682" y="279" width="3" height="18" fill="#ff4500"/>
<rect x="691" y="242" width="1" height="52" fill="#32cd32"/>
<rect x="689" y="278" width="5" height="11" fill="#32cd32"/>
<rect x="699" y="268" width="1" height="52" fill="#32cd32"/>
<rect x="697" y="288" width="5" height="10" fill="#32cd32"/>
<rect x="707" y="275" width="1" height="59" fill="#32cd32"/>
<rect x="705" y="297" width="5" height="12" fill="#32cd32"/>
<rect x="715" y="272" width="1" height="39" fill="#ff0000"/>
<rect x="713" y="281" width="5" height="28" fill="#ff0000"/>
<rect x="714" y="282" width="3" height="26" fill="#ff4500"/>
<rect x="723" y="248" width="1" height="39" fill="#ff0000"/>
<rect x="721" y="271" width="5" height="15" fill="#ff0000"/>
<rect x="722" y="272" width="3" height="13" fill="#ff4500"/>
<rect x="731" y="243" width="1" height="56" fill="#ff0000"/>
<rect x="729" y="249" width="5" height="22" fill="#ff0000"/>
<rect x="730" y="250" width="3" height="20" fill="#ff4500"/>
<rect x="739" y="228" width="1" height="31" fill="#ff0000"/>
<rect x="737" y="235" width="5" height="14" fill="#ff0000"/>
<rect x="738" y="236" width="3" height="12" fill="#ff4500"/>
<rect x="747" y="217" width="1" height="43" fill="#32cd32"/>
<rect x="745" y="235" width="5" height="3" fill="#32cd32"/>
<rect x="755" y="230" width="1" height="34" fill="#32cd32"/>
<rect x="753" y="237" width="5" height="7" fill="#32cd32"/>
<rect x="763" y="230" width="1" height="24" fill="#32cd32"/>
<rect x="761" y="243" width="5" height="3" fill="#32cd32"/>
<rect x="771" y="220" width="1" height="28" fill="#ff0000"/>
<rect x="769" y="238" width="5" height="9" fill="#ff0000"/>
<rect x="770" y="239" width="3" height="7" fill="#ff4500"/>
<rect x="779" y="212" width="1" height="35" fill="#ff0000"/>
<rect x="777" y="227" width="5" height="12" fill="#ff0000"/>
<rect x="778" y="228" width="3" height="10" fill="#ff4500"/>
<rect x="787" y="189" width="1" height="43" fill="#ff0000"/>
<rect x="785" y="208" width="5" height="20" fill="#ff0000"/>
<rect x="786" y="209" width="3" height="18" fill="#ff4500"/>
<rect x="795" y="176" width="1" height="51" fill="#ff0000"/>
<rect x="793" y="203" width="5" height="6" fill="#ff0000"/>
<rect x="794" y="204" width="3" height="4" fill="#ff4500"/>
<rect x="803" y="185" width="1" height="48" fill="#32cd32"/>
<rect x="801" y="203" width="5" height="2" fill="#32cd32"/>
<rect x="811" y="202" width="1" height="30" fill="#32cd32"/>
<rect x="809" y="203" width="5" height="26" fill="#32cd32"/>
<rect x="819" y="208" width="1" height="60" fill="#32cd32"/>
<rect x="817" y="213" width="5" height="46" fill="#32cd32"/>
<rect x="827" y="240" width="1" height="45" fill="#32cd32"/>
<rect x="825" y="258" width="5" height="14" fill="#32cd32"/>
<rect x="835" y="257" width="1" height="33" fill="#ff0000"/>
<rect x="833" y="262" width="5" height="10" fill="#ff0000"/>
<rect x="834" y="263" width="3" height="8" fill="#ff4500"/>
<rect x="843" y="256" width="1" height="81" fill="#32cd32"/>
<rect x="841" y="262" width="5" height="72" fill="#32cd32"/>
<rect x="851" y="327" width="1" height="55" fill="#ff0000"/>
<rect x="849" y="331" width="5" height="4" fill="#ff0000"/>
<rect x="850" y="332" width="3" height="2" fill="#ff4500"/>
<rect x="859" y="323" width="1" height="11" fill="#ff0000"/>
<rect x="857" y="326" width="5" height="6" fill="#ff0000"/>
<rect x="858" y="327" width="3" height="4" fill="#ff4500"/>
<rect x="867" y="312" width="1" height="32" fill="#32cd32"/>
<rect x="865" y="332" width="5" height="9" fill="#32cd32"/>
<rect x="875" y="282" width="1" height="62" fill="#ff0000"/>
<rect x="873" y="297" width="5" height="44" fill="#ff0000"/>
<rect x="874" y="298" width="3" height="42" fill="#ff4500"/>
<rect x="883" y="265" width="1" height="35" fill="#ff0000"/>
<rect x="881" y="270" width="5" height="28" fill="#ff0000"/>
<rect x="882" y="271" width="3" height="26" fill="#ff4500"/>
<rect x="891" y="244" width="1" height="39" fill="#32cd32"/>
<rect x="889" y="270" width="5" height="5" fill="#32cd32"/>
<rect x="899" y="239" width="1" height="41" fill="#ff0000"/>
<rect x="897" y="255" width="5" height="21" fill="#ff0000"/>
<rect x="898" y="256" width="3" height="19" fill="#ff4500"/>
<rect x="907" y="253" width="1" height="13" fill="#32cd32"/>
<rect x="905" y="254" width="5" height="7" fill="#32cd32"/>
<rect x="915" y="254" width="1" height="3" fill="#32cd32"/><rect x="913" y="255" width="5" height="1" fill="#32cd32"/>
<rect x="635" y="211" width="322" height="2" fill="#ff3838"/>
<rect x="717" y="268" width="246" height="2" fill="#99cc00"/>
<rect x="701" y="334" width="262" height="2" fill="#3a92e4"/>
<rect x="2" y="415" width="3" height="34" fill="#c0c0c0"/>
<rect x="10" y="415" width="3" height="31" fill="#c0c0c0"/>
<rect x="18" y="415" width="3" height="26" fill="#c0c0c0"/>
<rect x="26" y="415" width="3" height="23" fill="#c0c0c0"/>
<rect x="34" y="415" width="3" height="25" fill="#c0c0c0"/>
<rect x="42" y="415" width="3" height="27" fill="#c0c0c0"/>
<rect x="50" y="415" width="3" height="33" fill="#c0c0c0"/>
<rect x="58" y="415" width="3" height="35" fill="#c0c0c0"/>
<rect x="66" y="415" width="3" height="35" fill="#c0c0c0"/>
<rect x="74" y="415" width="3" height="35" fill="#c0c0c0"/>
<rect x="82" y="415" width="3" height="30" fill="#c0c0c0"/>
<rect x="90" y="415" width="3" height="24" fill="#c0c0c0"/>
<rect x="98" y="415" width="3" height="18" fill="#c0c0c0"/>
<rect x="106" y="415" width="3" height="15" fill="#c0c0c0"/>
<rect x="114" y="415" width="3" height="14" fill="#c0c0c0"/>
<rect x="122" y="415" width="3" height="11" fill="#c0c0c0"/>
<rect x="130" y="415" width="3" height="13" fill="#c0c0c0"/>
<rect x="138" y="415" width="3" height="15" fill="#c0c0c0"/>
<rect x="146" y="415" width="3" height="15" fill="#c0c0c0"/>
<rect x="154" y="415" width="3" height="18" fill="#c0c0c0"/>
<rect x="162" y="415" width="3" height="21" fill="#c0c0c0"/>
<rect x="170" y="415" width="3" height="18" fill="#c0c0c0"/>
<rect x="178" y="415" width="3" height="18" fill="#c0c0c0"/>
<rect x="186" y="415" width="3" height="18" fill="#c0c0c0"/>
<rect x="194" y="415" width="3" height="16" fill="#c0c0c0"/>
<rect x="202" y="415" width="3" height="15" fill="#c0c0c0"/>
<rect x="210" y="415" width="3" height="14" fill="#c0c0c0"/>
<rect x="218" y="415" width="3" height="11" fill="#c0c0c0"/>
<rect x="226" y="415" width="3" height="8" fill="#c0c0c0"/>
<rect x="234" y="415" width="3" height="4" fill="#c0c0c0"/>
<rect x="242" y="415" width="3" height="3" fill="#c0c0c0"/>
<rect x="250" y="415" width="3" height="6" fill="#c0c0c0"/>
<rect x="258" y="415" width="3" height="4" fill="#c0c0c0"/>
<rect x="266" y="415" width="3" height="4" fill="#c0c0c0"/>
<rect x="274" y="415" width="3" height="7" fill="#c0c0c0"/>
<rect x="282" y="415" width="3" height="9" fill="#c0c0c0"/>
<rect x="290" y="415" width="3" height="9" fill="#c0c0c0"/>
<rect x="298" y="415" width="3" height="7" fill="#c0c0c0"/>
<rect x="306" y="415" width="3" height="4" fill="#c0c0c0"/>
<rect x="314" y="415" width="3" height="1" fill="#c0c0c0"/>
<rect x="322" y="412" width="3" height="3" fill="#c0c0c0"/>
<rect x="330" y="412" width="3" height="3" fill="#c0c0c0"/>
<rect x="338" y="410" width="3" height="5" fill="#c0c0c0"/>
<rect x="346" y="410" width="3" height="5" fill="#c0c0c0"/>
<rect x="354" y="409" width="3" height="6" fill="#c0c0c0"/>
<rect x="362" y="409" width="3" height="6" fill="#c0c0c0"/>
<rect x="370" y="407" width="3" height="8" fill="#c0c0c0"/>
<rect x="378" y="405" width="3" height="10" fill="#c0c0c0"/>
<rect x="386" y="404" width="3" height="11" fill="#c0c0c0"/>
<rect x="394" y="402" width="3" height="13" fill="#c0c0c0"/>
<rect x="402" y="406" width="3" height="9" fill="#c0c0c0"/>
<rect x="410" y="408" width="3" height="7" fill="#c0c0c0"/>
<rect x="418" y="408" width="3" height="7" fill="#c0c0c0"/>
<rect x="426" y="409" width="3" height="6" fill="#c0c0c0"/>
<rect x="434" y="407" width="3" height="8" fill="#c0c0c0"/>
<rect x="442" y="405" width="3" height="10" fill="#c0c0c0"/>
<rect x="450" y="401" width="3" height="14" fill="#c0c0c0"/>
<rect x="458" y="397" width="3" height="18" fill="#c0c0c0"/>
<rect x="466" y="397" width="3" height="18" fill="#c0c0c0"/>
<rect x="474" y="398" width="3" height="17" fill="#c0c0c0"/>
<rect x="482" y="398" width="3" height="17" fill="#c0c0c0"/>
<rect x="490" y="400" width="3" height="15" fill="#c0c0c0"/>
<rect x="498" y="405" width="3" height="10" fill="#c0c0c0"/>
<rect x="506" y="409" width="3" height="6" fill="#c0c0c0"/>
<rect x="514" y="413" width="3" height="2" fill="#c0c0c0"/>
<rect x="522" y="415" width="3" height="2" fill="#c0c0c0"/>
<rect x="530" y="415" width="3" height="4" fill="#c0c0c0"/>
<rect x="538" y="415" width="3" height="7" fill="#c0c0c0"/>
<rect x="546" y="415" width="3" height="7" fill="#c0c0c0"/>
<rect x="554" y="415" width="3" height="9" fill="#c0c0c0"/>
<rect x="562" y="415" width="3" height="8" fill="#c0c0c0"/>
<rect x="570" y="415" width="3" height="6" fill="#c0c0c0"/>
<rect x="578" y="415" width="3" height="4" fill="#c0c0c0"/>
<rect x="586" y="415" width="3" height="3" fill="#c0c0c0"/>
<rect x="594" y="415" width="3" height="2" fill="#c0c0c0"/>
<rect x="602" y="412" width="3" height="3" fill="#c0c0c0"/>
<rect x="610" y="410" width="3" height="5" fill="#c0c0c0"/>
<rect x="618" y="408" width="3" height="7" fill="#c0c0c0"/>
<rect x="626" y="409" width="3" height="6" fill="#c0c0c0"/>
<rect x="634" y="411" width="3" height="4" fill="#c0c0c0"/>
<rect x="642" y="414" width="3" height="1" fill="#c0c0c0"/>
<rect x="650" y="415" width="3" height="3" fill="#c0c0c0"/>
<rect x="658" y="415" width="3" height="7" fill="#c0c0c0"/>
<rect x="666" y="415" width="3" height="10" fill="#c0c0c0"/>
<rect x="674" y="415" width="3" height="15" fill="#c0c0c0"/>
<rect x="682" y="415" width="3" height="18" fill="#c0c0c0"/>
<rect x="690" y="415" width="3" height="20" fill="#c0c0c0"/>
<rect x="698" y="415" width="3" height="23" fill="#c0c0c0"/>
<rect x="706" y="415" width="3" height="25" fill="#c0c0c0"/>
<rect x="714" y="415" width="3" height="25" fill="#c0c0c0"/>
<rect x="722" y="415" width="3" height="24" fill="#c0c0c0"/>
<rect x="730" y="415" width="3" height="21" fill="#c0c0c0"/>
<rect x="738" y="415" width="3" height="18" fill="#c0c0c0"/>
<rect x="746" y="415" width="3" height="16" fill="#c0c0c0"/>
<rect x="754" y="415" width="3" height="14" fill="#c0c0c0"/>
<rect x="762" y="415" width="3" height="13" fill="#c0c0c0"/>
<rect x="770" y="415" width="3" height="11" fill="#c0c0c0"/>
<rect x="778" y="415" width="3" height="9" fill="#c0c0c0"/>
<rect x="786" y="415" width="3" height="6" fill="#c0c0c0"/>
<rect x="794" y="415" width="3" height="4" fill="#c0c0c0"/>
<rect x="802" y="415" width="3" height="2" fill="#c0c0c0"/>
<rect x="810" y="415" width="3" height="1" fill="#c0c0c0"/>
<rect x="818" y="415" width="3" height="3" fill="#c0c0c0"/>
<rect x="826" y="415" width="3" height="5" fill="#c0c0c0"/>
<rect x="834" y="415" width="3" height="6" fill="#c0c0c0"/>
<rect x="842" y="415" width="3" height="12" fill="#c0c0c0"/>
<rect x="850" y="415" width="3" height="15" fill="#c0c0c0"/>
<rect x="858" y="415" width="3" height="18" fill="#c0c0c0"/>
<rect x="866" y="415" width="3" height="21" fill="#c0c0c0"/>
<rect x="874" y="415" width="3" height="20" fill="#c0c0c0"/>
<rect x="882" y="415" width="3" height="17" fill="#c0c0c0"/>
<rect x="890" y="415" width="3" height="15" fill="#c0c0c0"/>
<rect x="898" y="415" width="3" height="13" fill="#c0c0c0"/>
<rect x="906" y="415" width="3" height="10" fill="#c0c0c0"/>
<rect x="914" y="415" width="3" height="9" fill="#c0c0c0"/>
<path d="M3 451h3v1h-3zM6 450h6v1h-6zM12 449h8v1h-8zM20 448h8v1h-8zM28 447h7v1h-7zM35 446h7v1h-7zM42 445h4v1h-4zM46 444h52v1h-52zM98 443h6v1h-6zM104 442h8v1h-8zM112 441h5v1h-5zM117 440h3v1h-3zM120 439h3v1h-3zM123 438h3v1h-3zM126 437h3v1h-3zM129 436h3v1h-3zM132 435h2v1h-2zM134 434h3v1h-3zM137 433h3v1h-3zM140 432h4v1h-4zM144 431h4v1h-4zM148 430h45v1h-45zM193 431h28v1h-28zM221 430h5v1h-5zM226 429h5v1h-5zM231 428h4v1h-4zM235 427h5v1h-5zM240 426h6v1h-6zM246 425h5v1h-5zM251 424h5v1h-5zM256 423h5v1h-5zM261 422h9v1h-9zM270 421h41v1h-41zM311 420h8v1h-8zM319 419h14v1h-14zM333 418h5v1h-5zM338 417h6v1h-6zM344 416h5v1h-5zM349 415h5v1h-5zM354 414h6v1h-6zM360 413h5v1h-5zM365 412h4v1h-4zM369 411h6v1h-6zM375 410h7v1h-7zM382 409h7v1h-7zM389 408h4v1h-4zM393 407h12v1h-12zM405 406h41v1h-41zM446 405h16v1h-16zM462 404h8v1h-8zM470 403h7v1h-7zM477 402h6v1h-6zM483 401h31v1h-31zM514 402h4v1h-4zM518 403h4v1h-4zM522 404h4v1h-4zM526 405h4v1h-4zM530 406h3v1h-3zM533 407h3v1h-3zM536 408h3v1h-3zM539 409h3v1h-3zM542 410h4v1h-4zM546 411h4v1h-4zM550 412h3v1h-3zM553 413h3v1h-3zM556 414h4v1h-4zM560 415h4v1h-4zM564 416h4v1h-4zM568 417h5v1h-5zM573 418h5v1h-5zM578 419h7v1h-7zM585 420h13v1h-13zM598 419h7v1h-7zM605 418h5v1h-5zM610 417h6v1h-6zM616 416h5v1h-5zM621 415h7v1h-7zM628 414h5v1h-5zM633 413h14v1h-14zM647 412h10v1h-10zM657 413h7v1h-7zM664 414h6v1h-6zM670 415h5v1h-5zM675 416h4v1h-4zM679 417h4v1h-4zM683 418h3v1h-3zM686 419h2v1h-2zM688 420h3v1h-3zM691 421h3v1h-3zM694 422h2v1h-2zM696 423h3v1h-3zM699 424h3v1h-3zM702 425h2v1h-2zM704 426h3v1h-3zM707 427h2v1h-2zM709 428h3v1h-3zM712 429h3v1h-3zM715 430h4v1h-4zM719 431h3v1h-3zM722 432h4v1h-4zM726 433h4v1h-4zM730 434h7v1h-7zM737 435h22v1h-22zM759 434h5v1h-5zM764 433h4v1h-4zM768 432h6v1h-6zM774 431h6v1h-6zM780 430h4v1h-4zM784 429h4v1h-4zM788 428h3v1h-3zM791 427h3v1h-3zM794 426h3v1h-3zM797 425h4v1h-4zM801 424h4v1h-4zM805 423h4v1h-4zM809 422h6v1h-6zM815 421h7v1h-7zM822 420h7v1h-7zM829 419h20v1h-20zM849 420h7v1h-7zM856 421h6v1h-6zM862 422h5v1h-5zM867 423h4v1h-4zM871 424h4v1h-4zM875 425h4v1h-4zM879 426h4v1h-4zM883 427h6v1h-6zM889 428h8v1h-8zM897 429h8v1h-8zM905 430h5v1h-5zM910 429h5v1h-5z" fill="#ff0000"/>
<line x1="4" y1="499.5" x2="1165" y2="499.5" stroke="#c0c0c0" stroke-width="1" stroke-dasharray="3 3" shape-rendering="crispEdges"/>
<line x1="4" y1="554.5" x2="1165" y2="554.5" stroke="#c0c0c0" stroke-width="1" stroke-dasharray="3 3" shape-rendering="crispEdges"/>
<path d="M3 538h1v1h-1zM4 537h2v1h-2zM6 536h2v1h-2zM8 535h2v1h-2zM10 534h1v1h-1zM11 533h1v2h-1zM12 532h1v1h-1zM13 531h1v1h-1zM14 530h1v1h-1zM15 529h1v1h-1zM16 527h1v2h-1zM17 526h1v1h-1zM18 525h1v1h-1zM19 524h1v1h-1zM20 525h1v1h-1zM21 526h1v1h-1zM22 527h1v1h-1zM23 528h2v1h-2zM25 529h1v1h-1zM26 530h1v1h-1zM27 531h1v2h-1zM28 533h1v1h-1zM29 534h1v1h-1zM30 535h1v1h-1zM31 536h1v2h-1zM32 538h1v1h-1zM33 539h1v1h-1zM34 540h1v2h-1zM35 542h4v1h-4zM39 543h4v1h-4zM43 544h1v1h-1zM44 545h1v1h-1zM45 546h1v1h-1zM46 547h1v1h-1zM47 548h1v2h-1zM48 550h1v1h-1zM49 551h1v1h-1zM50 552h1v1h-1zM51 553h1v1h-1zM52 552h2v1h-2zM54 551h1v1h-1zM55 550h2v1h-2zM57 549h1v1h-1zM58 548h2v1h-2zM60 547h1v1h-1zM61 546h2v1h-2zM63 545h1v1h-1zM64 544h2v1h-2zM66 543h1v1h-1zM67 542h3v1h-3zM70 541h3v1h-3zM73 540h2v1h-2zM75 539h1v2h-1zM76 538h1v1h-1zM77 536h1v2h-1zM78 534h1v2h-1zM79 533h1v1h-1zM80 531h1v2h-1zM81 529h1v2h-1zM82 528h1v1h-1zM83 527h1v1h-1zM84 526h4v1h-4zM88 525h4v1h-4zM92 524h1v1h-1zM93 523h2v1h-2zM95 522h1v1h-1zM96 521h1v1h-1zM97 520h2v1h-2zM99 519h1v1h-1zM100 520h1v1h-1zM101 521h2v1h-2zM103 522h1v1h-1zM104 523h1v1h-1zM105 524h1v1h-1zM106 525h1v1h-1zM107 526h4v1h-4zM111 527h4v1h-4zM115 528h1v1h-1zM116 527h4v1h-4zM120 526h4v1h-4zM124 527h1v1h-1zM125 528h1v1h-1zM126 529h1v1h-1zM127 530h1v1h-1zM128 531h1v2h-1zM129 533h1v1h-1zM130 534h1v1h-1zM131 535h3v1h-3zM134 536h4v1h-4zM138 537h3v1h-3zM141 536h4v1h-4zM145 535h3v1h-3zM148 536h1v1h-1zM149 537h2v1h-2zM151 538h1v1h-1zM152 539h1v1h-1zM153 540h1v1h-1zM154 541h1v1h-1zM155 542h5v1h-5zM160 543h3v1h-3zM163 542h1v2h-1zM164 540h1v2h-1zM165 537h1v3h-1zM166 535h1v2h-1zM167 533h1v2h-1zM168 531h1v2h-1zM169 529h1v2h-1zM170 526h1v3h-1zM171 525h1v1h-1zM172 526h1v1h-1zM173 527h1v1h-1zM174 528h1v1h-1zM175 529h1v1h-1zM176 530h1v1h-1zM177 531h1v1h-1zM178 532h1v1h-1zM179 533h4v1h-4zM183 534h3v1h-3zM186 535h2v1h-2zM188 534h1v1h-1zM189 533h2v1h-2zM191 532h1v1h-1zM192 531h1v1h-1zM193 530h2v1h-2zM195 529h14v1h-14zM209 530h3v1h-3zM212 529h2v1h-2zM214 528h1v1h-1zM215 527h2v1h-2zM217 526h1v1h-1zM218 525h2v1h-2zM220 524h4v1h-4zM224 523h4v1h-4zM228 522h2v1h-2zM230 521h1v1h-1zM231 520h2v1h-2zM233 519h2v1h-2zM235 518h1v1h-1zM236 519h1v1h-1zM237 520h1v1h-1zM238 521h1v1h-1zM239 522h1v1h-1zM240 523h1v1h-1zM241 524h1v1h-1zM242 525h1v1h-1zM243 526h1v1h-1zM244 527h2v1h-2zM246 528h1v1h-1zM247 529h1v1h-1zM248 530h1v1h-1zM249 531h1v1h-1zM250 532h1v1h-1zM251 533h1v1h-1zM252 532h1v1h-1zM253 531h1v1h-1zM254 530h2v1h-2zM256 529h1v1h-1zM257 528h1v1h-1zM258 527h3v1h-3zM261 528h3v1h-3zM264 529h2v1h-2zM266 530h2v1h-2zM268 531h1v1h-1zM269 532h2v1h-2zM271 533h1v1h-1zM272 534h1v1h-1zM273 535h2v1h-2zM275 536h5v1h-5zM280 535h4v1h-4zM284 534h2v1h-2zM286 533h2v1h-2zM288 532h1v1h-1zM289 531h2v1h-2zM291 530h2v1h-2zM293 529h1v1h-1zM294 528h2v1h-2zM296 527h2v1h-2zM298 526h1v1h-1zM299 525h1v1h-1zM300 524h1v1h-1zM301 523h1v1h-1zM302 522h1v1h-1zM303 521h1v1h-1zM304 520h1v1h-1zM305 519h1v1h-1zM306 518h1v1h-1zM307 517h6v1h-6zM313 518h11v1h-11zM324 519h1v1h-1zM325 520h1v1h-1zM326 521h1v1h-1zM327 522h1v1h-1zM328 523h1v1h-1zM329 524h1v1h-1zM330 525h1v1h-1zM331 526h1v1h-1zM332 525h1v1h-1zM333 524h2v1h-2zM335 523h1v1h-1zM336 522h1v1h-1zM337 521h2v1h-2zM339 520h3v1h-3zM342 521h4v1h-4zM346 522h4v1h-4zM350 521h11v1h-11zM361 522h3v1h-3zM364 521h1v1h-1zM365 520h2v1h-2zM367 519h1v1h-1zM368 518h1v1h-1zM369 517h2v1h-2zM371 516h3v1h-3zM374 515h8v1h-8zM382 516h4v1h-4zM386 517h2v1h-2zM388 516h2v1h-2zM390 515h1v1h-1zM391 514h2v1h-2zM393 513h2v1h-2zM395 512h1v3h-1zM396 515h1v2h-1zM397 517h1v3h-1zM398 520h1v2h-1zM399 522h1v3h-1zM400 525h1v2h-1zM401 527h1v3h-1zM402 530h1v3h-1zM403 533h1v1h-1zM404 532h1v1h-1zM405 531h1v1h-1zM406 530h1v1h-1zM407 529h1v1h-1zM408 528h1v1h-1zM409 527h2v1h-2zM411 526h1v1h-1zM412 525h5v1h-5zM417 524h6v1h-6zM423 525h5v1h-5zM428 524h1v1h-1zM429 523h1v1h-1zM430 522h1v1h-1zM431 520h1v2h-1zM432 519h1v1h-1zM433 518h1v1h-1zM434 517h1v1h-1zM435 516h2v1h-2zM437 517h2v1h-2zM439 518h2v1h-2zM441 519h2v1h-2zM443 520h1v1h-1zM444 519h1v1h-1zM445 517h1v2h-1zM446 516h1v1h-1zM447 515h1v1h-1zM448 514h1v1h-1zM449 513h1v1h-1zM450 512h1v1h-1zM451 511h2v1h-2zM453 510h4v1h-4zM457 509h3v1h-3zM460 510h1v1h-1zM461 511h1v1h-1zM462 512h1v1h-1zM463 513h1v1h-1zM464 514h1v2h-1zM465 516h1v1h-1zM466 517h1v1h-1zM467 518h3v1h-3zM470 519h4v1h-4zM474 520h5v1h-5zM479 519h5v1h-5zM484 520h1v1h-1zM485 521h2v1h-2zM487 522h1v1h-1zM488 523h1v1h-1zM489 524h1v1h-1zM490 525h2v1h-2zM492 526h1v1h-1zM493 527h1v1h-1zM494 528h2v1h-2zM496 529h1v1h-1zM497 530h1v1h-1zM498 531h1v1h-1zM499 532h4v1h-4zM503 533h3v1h-3zM506 534h4v1h-4zM510 535h4v1h-4zM514 536h15v1h-15zM529 537h8v1h-8zM537 538h3v1h-3zM540 537h2v1h-2zM542 536h1v1h-1zM543 535h2v1h-2zM545 534h1v1h-1zM546 533h3v1h-3zM549 534h2v1h-2zM551 535h2v1h-2zM553 536h2v1h-2zM555 537h1v1h-1zM556 535h1v2h-1zM557 534h1v1h-1zM558 533h1v1h-1zM559 532h1v1h-1zM560 530h1v2h-1zM561 529h1v1h-1zM562 528h1v1h-1zM563 527h2v1h-2zM565 526h2v1h-2zM567 525h3v1h-3zM570 524h2v1h-2zM572 523h2v1h-2zM574 522h2v1h-2zM576 521h2v1h-2zM578 520h3v1h-3zM581 521h2v1h-2zM583 522h2v1h-2zM585 523h2v1h-2zM587 524h1v1h-1zM588 523h4v1h-4zM592 522h4v1h-4zM596 520h1v2h-1zM597 519h1v1h-1zM598 518h1v1h-1zM599 517h1v1h-1zM600 516h1v1h-1zM601 515h1v1h-1zM602 514h1v1h-1zM603 513h4v1h-4zM607 514h4v1h-4zM611 515h4v1h-4zM615 516h4v1h-4zM619 517h1v1h-1zM620 518h1v1h-1zM621 519h2v1h-2zM623 520h1v1h-1zM624 521h1v1h-1zM625 522h1v1h-1zM626 523h1v1h-1zM627 524h1v1h-1zM628 525h2v1h-2zM630 526h2v1h-2zM632 527h1v1h-1zM633 528h2v1h-2zM635 529h1v1h-1zM636 530h2v1h-2zM638 531h1v1h-1zM639 532h1v1h-1zM640 533h2v1h-2zM642 534h1v1h-1zM643 535h2v1h-2zM645 536h2v1h-2zM647 537h2v1h-2zM649 538h2v1h-2zM651 539h2v1h-2zM653 540h1v1h-1zM654 541h2v1h-2zM656 542h2v1h-2zM658 543h1v1h-1zM659 544h5v1h-5zM664 545h4v1h-4zM668 546h1v1h-1zM669 547h1v1h-1zM670 548h2v1h-2zM672 549h1v1h-1zM673 550h1v1h-1zM674 551h1v1h-1zM675 552h1v1h-1zM676 551h1v1h-1zM677 550h1v1h-1zM678 549h1v1h-1zM679 548h1v1h-1zM680 547h1v1h-1zM681 546h2v1h-2zM683 545h4v1h-4zM687 546h4v1h-4zM691 547h4v1h-4zM695 548h4v1h-4zM699 549h4v1h-4zM703 550h4v1h-4zM707 550h1v2h-1zM708 549h1v1h-1zM709 548h1v1h-1zM710 547h1v1h-1zM711 546h1v1h-1zM712 544h1v2h-1zM713 543h1v1h-1zM714 542h1v1h-1zM715 541h1v1h-1zM716 540h3v1h-3zM719 539h3v1h-3zM722 538h2v1h-2zM724 537h1v1h-1zM725 536h1v1h-1zM726 535h1v1h-1zM727 534h1v1h-1zM728 533h1v1h-1zM729 532h2v1h-2zM731 531h1v1h-1zM732 530h2v1h-2zM734 529h2v1h-2zM736 528h2v1h-2zM738 527h9v1h-9zM747 528h4v1h-4zM751 529h3v1h-3zM754 530h11v1h-11zM765 529h3v1h-3zM768 528h4v1h-4zM772 527h2v1h-2zM774 526h2v1h-2zM776 525h2v1h-2zM778 524h2v1h-2zM780 523h1v1h-1zM781 522h2v1h-2zM783 521h1v1h-1zM784 520h1v1h-1zM785 519h2v1h-2zM787 518h2v1h-2zM789 517h4v1h-4zM793 516h11v1h-11zM804 517h1v1h-1zM805 518h1v1h-1zM806 519h1v2h-1zM807 521h1v1h-1zM808 522h1v1h-1zM809 523h1v1h-1zM810 524h1v2h-1zM811 526h1v1h-1zM812 527h1v1h-1zM813 528h1v1h-1zM814 529h1v2h-1zM815 531h1v1h-1zM816 532h1v1h-1zM817 533h1v1h-1zM818 534h1v2h-1zM819 536h2v1h-2zM821 537h2v1h-2zM823 538h2v1h-2zM825 539h2v1h-2zM827 540h1v1h-1zM828 539h2v1h-2zM830 538h2v1h-2zM832 537h2v1h-2zM834 536h1v1h-1zM835 536h1v2h-1zM836 538h1v2h-1zM837 540h1v2h-1zM838 542h1v2h-1zM839 544h1v2h-1zM840 546h1v2h-1zM841 548h1v3h-1zM842 551h1v2h-1zM843 553h1v1h-1zM844 552h4v1h-4zM848 551h4v1h-4zM852 550h4v1h-4zM856 549h6v1h-6zM862 550h2v1h-2zM864 551h3v1h-3zM867 551h1v2h-1zM868 549h1v2h-1zM869 547h1v2h-1zM870 545h1v2h-1zM871 543h1v2h-1zM872 541h1v2h-1zM873 539h1v2h-1zM874 538h1v1h-1zM875 536h1v2h-1zM876 535h1v1h-1zM877 534h1v1h-1zM878 533h1v1h-1zM879 532h1v1h-1zM880 531h1v1h-1zM881 530h1v1h-1zM882 529h1v1h-1zM883 528h6v1h-6zM889 529h3v1h-3zM892 528h2v1h-2zM894 527h1v1h-1zM895 526h2v1h-2zM897 525h2v1h-2zM899 524h5v1h-5zM904 525h7v1h-7zM911 524h4v1h-4z" fill="#1e90ff"/>
<rect x="0" y="28" width="2" height="570" fill="#fff"/>
<rect x="2" y="30" width="1164" height="1" fill="#000"/>
<rect x="2" y="391" width="1164" height="1" fill="#000"/>
<rect x="2" y="30" width="1" height="362" fill="#000"/>
<rect x="1165" y="30" width="1" height="362" fill="#000"/>
<rect x="2" y="393" width="1164" height="1" fill="#000"/>
<rect x="2" y="454" width="1164" height="1" fill="#000"/>
<rect x="2" y="393" width="1" height="62" fill="#000"/>
<rect x="1165" y="393" width="1" height="62" fill="#000"/>
<rect x="2" y="456" width="1164" height="1" fill="#000"/>
<rect x="2" y="596" width="1164" height="1" fill="#000"/>
<rect x="2" y="456" width="1" height="141" fill="#000"/>
<rect x="1165" y="456" width="1" height="141" fill="#000"/>
<rect x="1166" y="58" width="2" height="1" fill="#000"/>
<rect x="1166" y="91" width="2" height="1" fill="#000"/>
<rect x="1166" y="124" width="2" height="1" fill="#000"/>
<rect x="1166" y="157" width="2" height="1" fill="#000"/>
<rect x="1166" y="190" width="2" height="1" fill="#000"/>
<rect x="1166" y="223" width="2" height="1" fill="#000"/>
<rect x="1166" y="256" width="2" height="1" fill="#000"/>
<rect x="1166" y="289" width="2" height="1" fill="#000"/>
<rect x="1166" y="322" width="2" height="1" fill="#000"/>
<rect x="1166" y="355" width="2" height="1" fill="#000"/>
<rect x="1166" y="388" width="2" height="1" fill="#000"/>
<rect x="1166" y="415" width="2" height="1" fill="#000"/>
<rect x="1166" y="394" width="1" height="1" fill="#000"/>
<rect x="1166" y="453" width="1" height="1" fill="#000"/>
<rect x="1166" y="458" width="1" height="1" fill="#000"/>
<rect x="1166" y="596" width="1" height="1" fill="#000"/>
<rect x="3" y="597" width="1" height="2" fill="#000"/>
<rect x="67" y="597" width="1" height="2" fill="#000"/>
<rect x="131" y="597" width="1" height="2" fill="#000"/>
<rect x="195" y="597" width="1" height="2" fill="#000"/>
<rect x="259" y="597" width="1" height="2" fill="#000"/>
<rect x="323" y="597" width="1" height="2" fill="#000"/>
<rect x="387" y="597" width="1" height="2" fill="#000"/>
<rect x="451" y="597" width="1" height="2" fill="#000"/>
<rect x="515" y="597" width="1" height="2" fill="#000"/>
<rect x="579" y="597" width="1" height="2" fill="#000"/>
<rect x="643" y="597" width="1" height="2" fill="#000"/>
<rect x="707" y="597" width="1" height="2" fill="#000"/>
<rect x="771" y="597" width="1" height="2" fill="#000"/>
<rect x="835" y="597" width="1" height="2" fill="#000"/>
<rect x="899" y="597" width="1" height="2" fill="#000"/>
<rect x="1167" y="250" width="41" height="11" fill="#000"/>
<rect x="0" y="617" width="1211" height="1" fill="#e3e3e3"/>
<rect x="0" y="618" width="1211" height="1" fill="#fff"/>
<rect x="0" y="619" width="1211" height="1" fill="#000"/>
<rect x="0" y="620" width="1211" height="1" fill="#fff"/>
<rect x="0" y="621" width="1211" height="18" fill="#f0f0f0"/>
<rect x="0" y="639" width="1211" height="1" fill="#fff"/>
<rect x="0" y="640" width="1211" height="3" fill="#f0f0f0"/>
<rect x="0" y="643" width="1211" height="1" fill="#a0a0a0"/>
<rect x="4" y="618" width="104" height="20" fill="#000"/>
<rect x="5" y="618" width="102" height="19" fill="#fff"/>
<rect x="4" y="618" width="1" height="1" fill="#fff"/><rect x="107" y="618" width="1" height="1" fill="#fff"/>
<rect x="212" y="622" width="1" height="14" fill="#808080"/>
<rect x="312" y="622" width="1" height="14" fill="#808080"/>
<rect x="416" y="622" width="1" height="14" fill="#808080"/>
<rect x="508" y="622" width="1" height="14" fill="#808080"/>
<rect x="604" y="622" width="1" height="14" fill="#808080"/>
<rect x="696" y="622" width="1" height="14" fill="#808080"/>
<rect x="788" y="622" width="1" height="14" fill="#808080"/>
<rect x="876" y="622" width="1" height="14" fill="#808080"/>
<rect x="980" y="622" width="1" height="14" fill="#808080"/>
<rect x="1048" y="622" width="1" height="14" fill="#808080"/>
<rect x="1140" y="622" width="1" height="14" fill="#808080"/>
<rect x="1175" y="620" width="36" height="19" fill="#f0f0f0"/>
<path d="M1183 625h1v6h-1zM1182 626h1v4h-1zM1181 627h1v2h-1z" fill="#a0a0a0"/>
<path d="M1200 625h1v6h-1zM1201 626h1v4h-1zM1202 627h1v2h-1z" fill="#000"/>
<defs><linearGradient id="g" gradientUnits="userSpaceOnUse" x1="0" y1="50" x2="0" y2="114"><stop offset="0" stop-color="#5a5aff"/><stop offset="1" stop-color="#0000a4"/></linearGradient><linearGradient id="b1" x1="0" y1="0" x2="0" y2="1"><stop offset="0" stop-color="#f2f2f2"/><stop offset="1" stop-color="#e9e9e9"/></linearGradient><linearGradient id="b2" x1="0" y1="0" x2="0" y2="1"><stop offset="0" stop-color="#dadada"/><stop offset="1" stop-color="#cecece"/></linearGradient></defs>
<rect x="6" y="50" width="219" height="64" fill="#fff"/>
<rect x="6" y="50" width="52" height="24" fill="#0000b4"/><rect x="7" y="51" width="50" height="23" fill="url(#g)"/>
<rect x="173" y="50" width="52" height="24" fill="#0000b4"/><rect x="174" y="51" width="50" height="23" fill="url(#g)"/>
<rect x="6" y="74" width="109" height="40" fill="#0000b4"/><rect x="7" y="74" width="107" height="39" fill="url(#g)"/>
<rect x="117" y="74" width="108" height="40" fill="#0000b4"/><rect x="118" y="74" width="106" height="39" fill="url(#g)"/>
<rect x="58" y="74" width="57" height="1" fill="#0000b4"/><rect x="117" y="74" width="56" height="1" fill="#0000b4"/>
<rect x="10" y="73" width="44" height="1" fill="#000080"/><rect x="10" y="74" width="44" height="1" fill="#7878ff"/>
<rect x="177" y="73" width="44" height="1" fill="#000080"/><rect x="177" y="74" width="44" height="1" fill="#7878ff"/>
<rect x="60" y="50" width="111" height="22" fill="#abadb3"/><rect x="61" y="51" width="109" height="20" fill="#fff"/>
<rect x="81" y="51" width="1" height="20" fill="#abadb3"/><rect x="149" y="51" width="1" height="20" fill="#abadb3"/>
<rect x="62" y="52" width="18" height="6" fill="url(#b1)"/><rect x="62" y="58" width="18" height="12" fill="url(#b2)"/>
<rect x="151" y="52" width="18" height="6" fill="url(#b1)"/><rect x="151" y="58" width="18" height="12" fill="url(#b2)"/>
<rect x="68" y="59" width="5" height="1" fill="#5c78dc"/><rect x="69" y="60" width="3" height="1" fill="#4a62bc"/><rect x="70" y="61" width="1" height="1" fill="#3a4a8c"/>
<rect x="159" y="59" width="1" height="1" fill="#7088dc"/><rect x="158" y="60" width="3" height="1" fill="#5c74d0"/><rect x="157" y="61" width="5" height="1" fill="#4a62c0"/>
<path d="M9 37h1v1h1v1h1v1h1v1h-7v-1h1v-1h1v-1h1z" fill="#000"/>
</svg>
<span class="t" style="left:-14px;top:11px;font:normal 10.2px/1 'Liberation Sans',sans-serif;color:#3c3c3c;transform:translateX(0.00px) scaleX(0.9407);z-index:5;">M15</span>
<span class="t" style="left:14px;top:11px;font:normal 10.2px/1 'Liberation Sans',sans-serif;color:#3c3c3c;transform:translateX(0.00px) scaleX(0.9414);z-index:5;">M30</span>
<span class="t" style="left:45px;top:11px;font:normal 10.2px/1 'Liberation Sans',sans-serif;color:#3c3c3c;transform:translateX(0.00px) scaleX(0.9661);z-index:5;">H1</span>
<span class="t" style="left:72px;top:11px;font:normal 10.2px/1 'Liberation Sans',sans-serif;color:#3c3c3c;transform:translateX(0.00px) scaleX(1.0293);z-index:5;">H4</span>
<span class="t" style="left:101px;top:11px;font:normal 10.2px/1 'Liberation Sans',sans-serif;color:#3c3c3c;transform:translateX(0.00px) scaleX(0.9661);z-index:5;">D1</span>
<span class="t" style="left:129px;top:11px;font:normal 10.2px/1 'Liberation Sans',sans-serif;color:#3c3c3c;transform:translateX(0.00px) scaleX(0.9391);z-index:5;">W1</span>
<span class="t" style="left:155px;top:11px;font:normal 10.2px/1 'Liberation Sans',sans-serif;color:#3c3c3c;transform:translateX(0.00px) scaleX(1.0282);z-index:5;">MN</span>
<span class="t" style="left:18px;top:35px;font:normal 10.2px/1 'Liberation Sans',sans-serif;color:#000;transform:translateX(0.00px) scaleX(0.9333);z-index:5;-webkit-text-stroke:0.15px #000;">EURUSD,Daily</span>
<span class="t" style="left:88px;top:35px;font:normal 10.2px/1 'Liberation Sans',sans-serif;color:#000;transform:translateX(0.00px) scaleX(0.8938);z-index:5;-webkit-text-stroke:0.15px #000;">1.13256</span>
<span class="t" style="left:124px;top:35px;font:normal 10.2px/1 'Liberation Sans',sans-serif;color:#000;transform:translateX(0.00px) scaleX(0.8930);z-index:5;-webkit-text-stroke:0.15px #000;">1.13257</span>
<span class="t" style="left:160px;top:35px;font:normal 10.2px/1 'Liberation Sans',sans-serif;color:#000;transform:translateX(0.00px) scaleX(0.8938);z-index:5;-webkit-text-stroke:0.15px #000;">1.13243</span>
<span class="t" style="left:196px;top:35px;font:normal 10.2px/1 'Liberation Sans',sans-serif;color:#000;transform:translateX(0.00px) scaleX(0.9022);z-index:5;-webkit-text-stroke:0.15px #000;">1.13245</span>
<span class="t" style="left:1171px;top:55px;font:normal 10.2px/1 'Liberation Sans',sans-serif;color:#000;transform:translateX(0.00px) scaleX(0.8938);z-index:5;-webkit-text-stroke:0.15px #000;">1.15580</span>
<span class="t" style="left:1171px;top:88px;font:normal 10.2px/1 'Liberation Sans',sans-serif;color:#000;transform:translateX(0.00px) scaleX(0.8938);z-index:5;-webkit-text-stroke:0.15px #000;">1.15190</span>
<span class="t" style="left:1171px;top:121px;font:normal 10.2px/1 'Liberation Sans',sans-serif;color:#000;transform:translateX(0.00px) scaleX(0.8938);z-index:5;-webkit-text-stroke:0.15px #000;">1.14800</span>
<span class="t" style="left:1171px;top:154px;font:normal 10.2px/1 'Liberation Sans',sans-serif;color:#000;transform:translateX(0.00px) scaleX(0.8938);z-index:5;-webkit-text-stroke:0.15px #000;">1.14410</span>
<span class="t" style="left:1171px;top:187px;font:normal 10.2px/1 'Liberation Sans',sans-serif;color:#000;transform:translateX(0.00px) scaleX(0.8938);z-index:5;-webkit-text-stroke:0.15px #000;">1.14020</span>
<span class="t" style="left:1171px;top:220px;font:normal 10.2px/1 'Liberation Sans',sans-serif;color:#000;transform:translateX(0.00px) scaleX(0.8938);z-index:5;-webkit-text-stroke:0.15px #000;">1.13630</span>
<span class="t" style="left:1171px;top:286px;font:normal 10.2px/1 'Liberation Sans',sans-serif;color:#000;transform:translateX(0.00px) scaleX(0.8938);z-index:5;-webkit-text-stroke:0.15px #000;">1.12850</span>
<span class="t" style="left:1171px;top:319px;font:normal 10.2px/1 'Liberation Sans',sans-serif;color:#000;transform:translateX(0.00px) scaleX(0.8938);z-index:5;-webkit-text-stroke:0.15px #000;">1.12460</span>
<span class="t" style="left:1171px;top:352px;font:normal 10.2px/1 'Liberation Sans',sans-serif;color:#000;transform:translateX(0.00px) scaleX(0.8938);z-index:5;-webkit-text-stroke:0.15px #000;">1.12070</span>
<span class="t" style="left:1171px;top:385px;font:normal 10.2px/1 'Liberation Sans',sans-serif;color:#000;transform:translateX(0.00px) scaleX(0.9129);z-index:5;-webkit-text-stroke:0.15px #000;">1.11680</span>
<span class="t" style="left:1171px;top:252px;font:normal 10.2px/1 'Liberation Sans',sans-serif;color:#fff;transform:translateX(0.00px) scaleX(0.9078);z-index:7;-webkit-text-stroke:0.15px #fff;">1.13245</span>
<span class="t" style="left:1169px;top:398px;font:normal 10.2px/1 'Liberation Sans',sans-serif;color:#000;transform:translateX(0.00px) scaleX(0.8964);z-index:5;-webkit-text-stroke:0.15px #000;">0.003188</span>
<span class="t" style="left:1169px;top:412px;font:normal 10.2px/1 'Liberation Sans',sans-serif;color:#000;transform:translateX(0.00px) scaleX(0.8869);z-index:5;-webkit-text-stroke:0.15px #000;">0.00</span>
<span class="t" style="left:1169px;top:444px;font:normal 10.2px/1 'Liberation Sans',sans-serif;color:#000;transform:translateX(0.00px) scaleX(0.9050);z-index:5;-webkit-text-stroke:0.15px #000;">-0.005889</span>
<span class="t" style="left:1169px;top:460px;font:normal 10.2px/1 'Liberation Sans',sans-serif;color:#000;transform:translateX(0.00px) scaleX(0.9017);z-index:5;-webkit-text-stroke:0.15px #000;">100</span>
<span class="t" style="left:1168px;top:496px;font:normal 10.2px/1 'Liberation Sans',sans-serif;color:#000;transform:translateX(0.00px) scaleX(0.9478);z-index:5;-webkit-text-stroke:0.15px #000;">70</span>
<span class="t" style="left:1168px;top:551px;font:normal 10.2px/1 'Liberation Sans',sans-serif;color:#000;transform:translateX(0.00px) scaleX(0.8860);z-index:5;-webkit-text-stroke:0.15px #000;">30</span>
<span class="t" style="left:1169px;top:586px;font:normal 10.2px/1 'Liberation Sans',sans-serif;color:#000;transform:translateX(0.00px) scaleX(0.9906);z-index:5;-webkit-text-stroke:0.15px #000;">0</span>
<span class="t" style="left:7px;top:399px;font:normal 10.2px/1 'Liberation Sans',sans-serif;color:#000;transform:translateX(0.00px) scaleX(0.9861);z-index:5;-webkit-text-stroke:0.15px #000;">MACD</span>
<span class="t" style="left:36px;top:399px;font:normal 10.2px/1 'Liberation Sans',sans-serif;color:#000;transform:translateX(0.00px) scaleX(0.9076);z-index:5;-webkit-text-stroke:0.15px #000;">(12,26,9)</span>
<span class="t" style="left:76px;top:399px;font:normal 10.2px/1 'Liberation Sans',sans-serif;color:#000;transform:translateX(0.00px) scaleX(0.8995);z-index:5;-webkit-text-stroke:0.15px #000;">-0.001125</span>
<span class="t" style="left:120px;top:399px;font:normal 10.2px/1 'Liberation Sans',sans-serif;color:#000;transform:translateX(0.00px) scaleX(0.8989);z-index:5;-webkit-text-stroke:0.15px #000;">-0.002166</span>
<span class="t" style="left:6px;top:462px;font:normal 10.2px/1 'Liberation Sans',sans-serif;color:#000;transform:translateX(0.00px) scaleX(0.9333);z-index:5;-webkit-text-stroke:0.15px #000;">RSI(14)</span>
<span class="t" style="left:42px;top:462px;font:normal 10.2px/1 'Liberation Sans',sans-serif;color:#000;transform:translateX(0.00px) scaleX(0.9056);z-index:5;-webkit-text-stroke:0.15px #000;">51.7133</span>
<span class="t" style="left:2px;top:602px;font:normal 10.2px/1 'Liberation Sans',sans-serif;color:#000;transform:translateX(0.00px) scaleX(0.9493);z-index:5;-webkit-text-stroke:0.15px #000;">5 Nov 2018</span>
<span class="t" style="left:66px;top:602px;font:normal 10.2px/1 'Liberation Sans',sans-serif;color:#000;transform:translateX(0.00px) scaleX(0.9407);z-index:5;-webkit-text-stroke:0.15px #000;">14 Nov 2018</span>
<span class="t" style="left:130px;top:602px;font:normal 10.2px/1 'Liberation Sans',sans-serif;color:#000;transform:translateX(0.00px) scaleX(0.9366);z-index:5;-webkit-text-stroke:0.15px #000;">23 Nov 2018</span>
<span class="t" style="left:194px;top:602px;font:normal 10.2px/1 'Liberation Sans',sans-serif;color:#000;transform:translateX(0.00px) scaleX(0.9025);z-index:5;-webkit-text-stroke:0.15px #000;">3 Dec 2018</span>
<span class="t" style="left:258px;top:602px;font:normal 10.2px/1 'Liberation Sans',sans-serif;color:#000;transform:translateX(0.00px) scaleX(0.9080);z-index:5;-webkit-text-stroke:0.15px #000;">12 Dec 2018</span>
<span class="t" style="left:322px;top:602px;font:normal 10.2px/1 'Liberation Sans',sans-serif;color:#000;transform:translateX(0.00px) scaleX(0.8996);z-index:5;-webkit-text-stroke:0.15px #000;">21 Dec 2018</span>
<span class="t" style="left:386px;top:602px;font:normal 10.2px/1 'Liberation Sans',sans-serif;color:#000;transform:translateX(0.00px) scaleX(0.9075);z-index:5;-webkit-text-stroke:0.15px #000;">31 Dec 2018</span>
<span class="t" style="left:450px;top:602px;font:normal 10.2px/1 'Liberation Sans',sans-serif;color:#000;transform:translateX(0.00px) scaleX(0.8950);z-index:5;-webkit-text-stroke:0.15px #000;">9 Jan 2019</span>
<span class="t" style="left:514px;top:602px;font:normal 10.2px/1 'Liberation Sans',sans-serif;color:#000;transform:translateX(0.00px) scaleX(0.8977);z-index:5;-webkit-text-stroke:0.15px #000;">18 Jan 2019</span>
<span class="t" style="left:578px;top:602px;font:normal 10.2px/1 'Liberation Sans',sans-serif;color:#000;transform:translateX(0.00px) scaleX(0.8964);z-index:5;-webkit-text-stroke:0.15px #000;">28 Jan 2019</span>
<span class="t" style="left:641px;top:602px;font:normal 10.2px/1 'Liberation Sans',sans-serif;color:#000;transform:translateX(0.00px) scaleX(0.9238);z-index:5;-webkit-text-stroke:0.15px #000;">6 Feb 2019</span>
<span class="t" style="left:706px;top:602px;font:normal 10.2px/1 'Liberation Sans',sans-serif;color:#000;transform:translateX(0.00px) scaleX(0.9170);z-index:5;-webkit-text-stroke:0.15px #000;">15 Feb 2019</span>
<span class="t" style="left:770px;top:602px;font:normal 10.2px/1 'Liberation Sans',sans-serif;color:#000;transform:translateX(0.00px) scaleX(0.9147);z-index:5;-webkit-text-stroke:0.15px #000;">25 Feb 2019</span>
<span class="t" style="left:833px;top:602px;font:normal 10.2px/1 'Liberation Sans',sans-serif;color:#000;transform:translateX(0.00px) scaleX(0.9208);z-index:5;-webkit-text-stroke:0.15px #000;">6 Mar 2019</span>
<span class="t" style="left:898px;top:602px;font:normal 10.2px/1 'Liberation Sans',sans-serif;color:#000;transform:translateX(0.00px) scaleX(0.9196);z-index:5;-webkit-text-stroke:0.15px #000;">15 Mar 2019</span>
<span class="t" style="left:16px;top:623px;font:normal 13.1px/1 'Liberation Sans',sans-serif;color:#000;transform:translateX(0.00px) scaleX(0.9132);z-index:5;-webkit-text-stroke:0.15px #000;">EURUSD,Daily</span>
<span class="t" style="left:119px;top:623px;font:normal 13.1px/1 'Liberation Sans',sans-serif;color:#808080;transform:translateX(0.00px) scaleX(0.9330);z-index:5;-webkit-text-stroke:0.15px #808080;">AUDUSD,Daily</span>
<span class="t" style="left:222px;top:623px;font:normal 13.1px/1 'Liberation Sans',sans-serif;color:#808080;transform:translateX(0.00px) scaleX(0.9280);z-index:5;-webkit-text-stroke:0.15px #808080;">USDCHF,Daily</span>
<span class="t" style="left:323px;top:623px;font:normal 13.1px/1 'Liberation Sans',sans-serif;color:#808080;transform:translateX(0.00px) scaleX(0.9247);z-index:5;-webkit-text-stroke:0.15px #808080;">USDCAD,Daily</span>
<span class="t" style="left:426px;top:623px;font:normal 13.1px/1 'Liberation Sans',sans-serif;color:#808080;transform:translateX(0.00px) scaleX(0.9353);z-index:5;-webkit-text-stroke:0.15px #808080;">USDCNH,H4</span>
<span class="t" style="left:517px;top:623px;font:normal 13.1px/1 'Liberation Sans',sans-serif;color:#808080;transform:translateX(0.00px) scaleX(0.9162);z-index:5;-webkit-text-stroke:0.15px #808080;">USDJPY,Daily</span>
<span class="t" style="left:615px;top:623px;font:normal 13.1px/1 'Liberation Sans',sans-serif;color:#808080;transform:translateX(0.00px) scaleX(0.9207);z-index:5;-webkit-text-stroke:0.15px #808080;">XAUUSD,H1</span>
<span class="t" style="left:708px;top:623px;font:normal 13.1px/1 'Liberation Sans',sans-serif;color:#808080;transform:translateX(0.00px) scaleX(0.9007);z-index:5;-webkit-text-stroke:0.15px #808080;">GBPUSD,H4</span>
<span class="t" style="left:800px;top:623px;font:normal 13.1px/1 'Liberation Sans',sans-serif;color:#808080;transform:translateX(0.00px) scaleX(0.9277);z-index:5;-webkit-text-stroke:0.15px #808080;">SP500,M15</span>
<span class="t" style="left:888px;top:623px;font:normal 13.1px/1 'Liberation Sans',sans-serif;color:#808080;transform:translateX(0.00px) scaleX(0.9077);z-index:5;-webkit-text-stroke:0.15px #808080;">GBPUSD,Daily</span>
<span class="t" style="left:989px;top:623px;font:normal 13.1px/1 'Liberation Sans',sans-serif;color:#808080;transform:translateX(0.00px) scaleX(0.9364);z-index:5;-webkit-text-stroke:0.15px #808080;">DJ30,H4</span>
<span class="t" style="left:1058px;top:623px;font:normal 13.1px/1 'Liberation Sans',sans-serif;color:#808080;transform:translateX(0.00px) scaleX(0.9091);z-index:5;-webkit-text-stroke:0.15px #808080;">TECH100,H1</span>
<div class="c" style="left:0;top:0;width:1175px;height:644px;z-index:5"><span class="t" style="left:1151px;top:623px;font:normal 13.1px/1 'Liberation Sans',sans-serif;color:#808080;transform:translateX(0.00px) scaleX(0.9300);z-index:5;-webkit-text-stroke:0.15px #808080;">UKOIL,H4</span></div>
<span class="t" style="left:18px;top:55px;font:normal 13.1px/1 'Liberation Sans',sans-serif;color:#fff;transform:translateX(0.00px) scaleX(0.8033);z-index:9;-webkit-text-stroke:0.15px #fff;">SELL</span>
<span class="t" style="left:186px;top:55px;font:normal 13.1px/1 'Liberation Sans',sans-serif;color:#fff;transform:translateX(0.00px) scaleX(0.9196);z-index:9;-webkit-text-stroke:0.15px #fff;">BUY</span>
<span class="t" style="left:121px;top:54px;font:normal 13.1px/1 'Liberation Sans',sans-serif;color:#000;transform:translateX(0.00px) scaleX(0.9633);z-index:9;-webkit-text-stroke:0.15px #000;">0.05</span>
<span class="t" style="left:26px;top:94px;font:bold 13.1px/1 'Liberation Sans',sans-serif;color:#fff;transform:translateX(0.00px) scaleX(0.9464);z-index:9;">1.13</span>
<span class="t" style="left:53px;top:76px;font:normal 35.2px/1 'Liberation Sans',sans-serif;color:#fff;transform:translateX(0.00px) scaleX(0.9232);z-index:9;-webkit-text-stroke:0.9px #2020c4;">24</span>
<span class="t" style="left:93px;top:78px;font:bold 13.1px/1 'Liberation Sans',sans-serif;color:#fff;transform:translateX(0.00px) scaleX(0.8931);z-index:9;">5</span>
<span class="t" style="left:136px;top:94px;font:bold 13.1px/1 'Liberation Sans',sans-serif;color:#fff;transform:translateX(0.00px) scaleX(0.9423);z-index:9;">1.13</span>
<span class="t" style="left:163px;top:76px;font:normal 35.2px/1 'Liberation Sans',sans-serif;color:#fff;transform:translateX(0.00px) scaleX(0.9573);z-index:9;-webkit-text-stroke:0.9px #2020c4;">26</span>
<span class="t" style="left:205px;top:78px;font:bold 13.1px/1 'Liberation Sans',sans-serif;color:#fff;transform:translateX(0.00px) scaleX(0.8931);z-index:9;">3</span>
</div></body></html>
